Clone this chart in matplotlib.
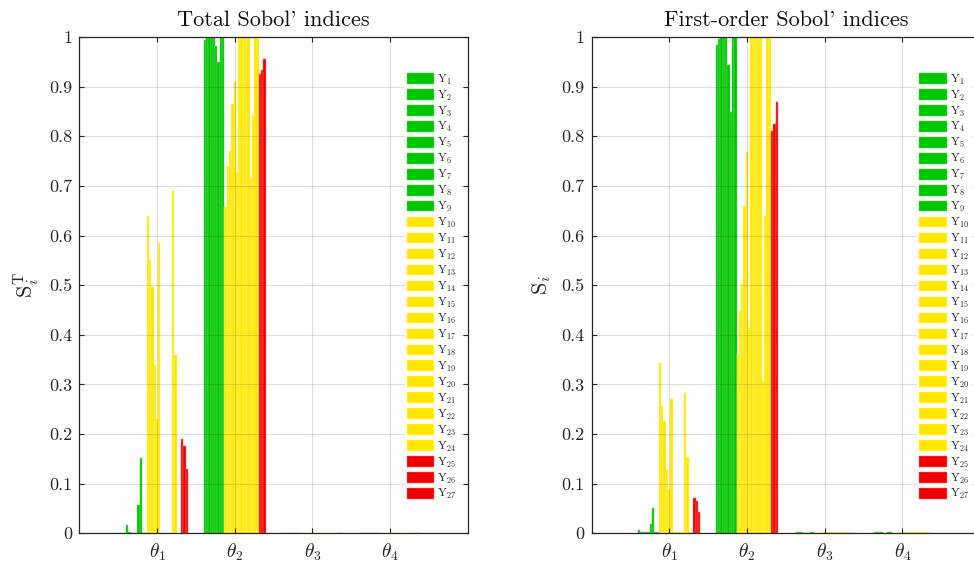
import numpy as np
import matplotlib
matplotlib.use('Agg')
import matplotlib.pyplot as plt

plt.rcParams['font.family'] = ['cmr10', 'DejaVu Serif']
plt.rcParams['mathtext.fontset'] = 'cm'
plt.rcParams['axes.unicode_minus'] = False

# ---------------- data ----------------
parameters = [r'$\theta_1$', r'$\theta_2$', r'$\theta_3$', r'$\theta_4$']
outputs = [rf'$\mathrm{{Y}}_{{{k}}}$' for k in range(1, 28)]
ytick_values = [0, 0.1, 0.2, 0.3, 0.4, 0.5, 0.6, 0.7, 0.8, 0.9, 1]
ytick_labels = ['0', '0.1', '0.2', '0.3', '0.4', '0.5', '0.6', '0.7', '0.8', '0.9', '1']

# Total Sobol' indices (one list per parameter, Y1..Y27)
ST_theta1 = [0.017, 0.002, 0, 0, 0, 0.057, 0.151, 0, 0,
             0.640, 0.551, 0.496, 0.340, 0.231, 0.584, 0, 0, 0, 0, 0,
             0.691, 0.359, 0, 0, 0.190, 0.176, 0.130]
ST_theta2 = [0.993, 0.998, 0.998, 0.998, 0.998, 0.981, 0.950, 0.998, 0.998,
             0.657, 0.741, 0.771, 0.866, 0.910, 0.726, 1, 1, 1, 1, 1,
             0.713, 0.843, 1, 1, 0.926, 0.933, 0.956]
ST_theta3 = [0] * 27
ST_theta4 = [0] * 27

# First-order Sobol' indices
S_theta1 = [0.007, 0.003, 0.003, 0.003, 0.003, 0.018, 0.050, 0.003, 0.003,
            0.343, 0.257, 0.227, 0.130, 0.087, 0.271, 0.003, 0.003, 0.003, 0.003, 0.003,
            0.282, 0.154, 0.003, 0.003, 0.071, 0.065, 0.042]
S_theta2 = [0.983, 0.995, 1, 1, 1, 0.943, 0.849, 1, 1,
            0.360, 0.447, 0.502, 0.659, 0.769, 0.414, 1, 1, 1, 1, 1,
            0.306, 0.640, 1, 1, 0.810, 0.825, 0.870]
S_theta3 = [0, 0.003, 0.003, 0.003, 0, 0, 0, 0.003, 0.003,
            0, 0, 0, 0, 0.002, 0.003, 0.003, 0.003, 0.003, 0.003, 0.003,
            0.003, 0.002, 0.003, 0.003, 0, 0, 0]
S_theta4 = [0, 0.003, 0.003, 0.003, 0.003, 0, 0, 0.003, 0.003,
            0, 0, 0, 0, 0, 0.003, 0.003, 0.003, 0.003, 0.003, 0.003,
            0.003, 0.003, 0.003, 0.003, 0, 0, 0]

# ---------------- styles ----------------
GREEN, YELLOW, RED = '#00C400', '#FFE800', '#EE0000'
GREEN_E, YELLOW_E, RED_E = '#66DD66', '#FFF27A', '#FF7070'
face_colors = [GREEN] * 9 + [YELLOW] * 15 + [RED] * 3
edge_colors = [GREEN_E] * 9 + [YELLOW_E] * 15 + [RED_E] * 3
AXC = '#262626'

fig = plt.figure(figsize=(9.74, 5.68), dpi=100)
W, H = 974.0, 568.0
ax_w, ax_h = 388.5, 496.3
bottom = (H - 533.3) / H
axL = fig.add_axes([79.3 / W, bottom, ax_w / W, ax_h / H])
axR = fig.add_axes([591.5 / W, bottom, ax_w / W, ax_h / H])

panels = [
    (axL, np.array([ST_theta1, ST_theta2, ST_theta3, ST_theta4]),
     "Total Sobol' indices", r'$\mathrm{S}_i^{\mathrm{T}}$'),
    (axR, np.array([S_theta1, S_theta2, S_theta3, S_theta4]),
     "First-order Sobol' indices", r'$\mathrm{S}_i$'),
]

n_out = len(outputs)
group_pos = np.arange(1, len(parameters) + 1)
group_width = 0.8
bw = group_width / n_out

for ax, vals, title, ylab in panels:
    for k in range(n_out):
        xk = group_pos - group_width / 2 + (k + 0.5) * bw
        ax.bar(xk, vals[:, k], width=bw, color=face_colors[k],
               edgecolor=edge_colors[k], linewidth=0.35, label=outputs[k])
    ax.set_xlim(0, 5)
    ax.set_ylim(0, 1)
    ax.set_xticks(group_pos)
    ax.set_xticklabels(parameters, fontsize=14)
    ax.set_yticks(ytick_values)
    ax.set_yticklabels(ytick_labels, fontsize=13)
    ax.set_axisbelow(False)
    ax.grid(True, color=AXC, alpha=0.15, linewidth=0.8)
    ax.tick_params(direction='in', length=3.6, width=0.8, color=AXC,
                   top=True, right=True, labelcolor=AXC)
    ax.tick_params(axis='y', pad=5)
    ax.tick_params(axis='x', pad=6)
    for sp in ax.spines.values():
        sp.set_color(AXC)
        sp.set_linewidth(0.9)
    ax.set_title(title, fontsize=16, color='#111111', pad=8)
    ax.set_ylabel(ylab, fontsize=16, color=AXC, labelpad=6)
    leg = ax.legend(loc='upper left', bbox_to_anchor=(0.838, 0.933),
                    fontsize=8.5, handlelength=2.3, handleheight=1.0,
                    handletextpad=0.25, labelspacing=0.165, borderpad=0.2,
                    borderaxespad=0, frameon=True, fancybox=False,
                    facecolor='white', edgecolor='white', framealpha=1)
    for t in leg.get_texts():
        t.set_color(AXC)

fig.savefig('out.png', dpi=100)
